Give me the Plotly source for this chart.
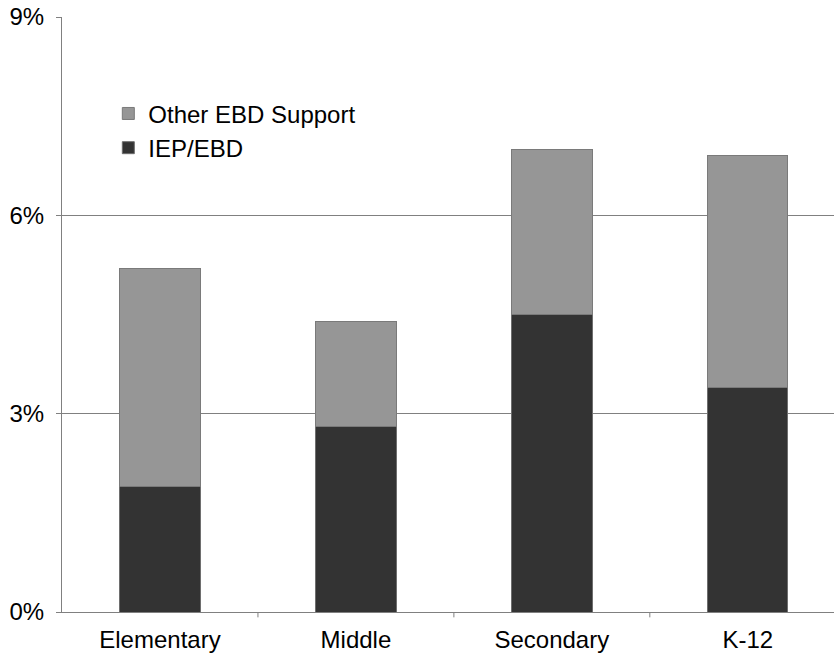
import plotly.graph_objects as go

# School levels and EBD identification rates (% of students)
levels = ["Elementary", "Middle", "Secondary", "K-12"]
iep_ebd = [1.9, 2.8, 4.5, 3.4]
other_ebd = [3.3, 1.6, 2.5, 3.5]
y_ticks = [0, 3, 6, 9]
y_tick_text = ["0%", "3%", "6%", "9%"]

font_family = "Liberation Sans, Arial, sans-serif"

fig = go.Figure()
fig.add_trace(go.Bar(
    x=levels, y=iep_ebd, name="IEP/EBD",
    marker=dict(color="#333333", line=dict(color="#6e6e6e", width=1)),
    width=0.41,
))
fig.add_trace(go.Bar(
    x=levels, y=other_ebd, name="Other EBD Support",
    marker=dict(color="#969696", line=dict(color="#7a7a7a", width=1)),
    width=0.41,
))

fig.update_layout(
    barmode="stack",
    width=834, height=653,
    margin=dict(l=62, r=0, t=17, b=41),
    paper_bgcolor="white", plot_bgcolor="white",
    font=dict(family=font_family, size=24, color="#000000"),
    showlegend=True,
    legend=dict(
        x=0.06, y=0.875, xanchor="left", yanchor="top",
        traceorder="reversed",
        font=dict(size=24, family=font_family),
        bgcolor="rgba(0,0,0,0)",
        itemclick=False,
    ),
    xaxis=dict(
        range=[-0.5, 3.44],
        showline=True, linecolor="#808080", linewidth=1,
        ticks="", showgrid=False,
        tickfont=dict(size=24),
        ticklabelstandoff=6,
    ),
    yaxis=dict(
        range=[0, 9],
        tickvals=y_ticks, ticktext=y_tick_text,
        showline=True, linecolor="#808080", linewidth=1,
        ticks="outside", ticklen=5, tickcolor="#808080",
        showgrid=True, gridcolor="#808080", gridwidth=1,
        zeroline=False,
        tickfont=dict(size=24),
        ticklabelstandoff=7,
    ),
)

# Category separator ticks along the baseline
for b in [0.5, 1.5, 2.5]:
    fig.add_shape(type="line", xref="x", yref="paper",
                  x0=b, x1=b, y0=0, y1=-0.009,
                  line=dict(color="#808080", width=1))

fig.write_html("out.html")
